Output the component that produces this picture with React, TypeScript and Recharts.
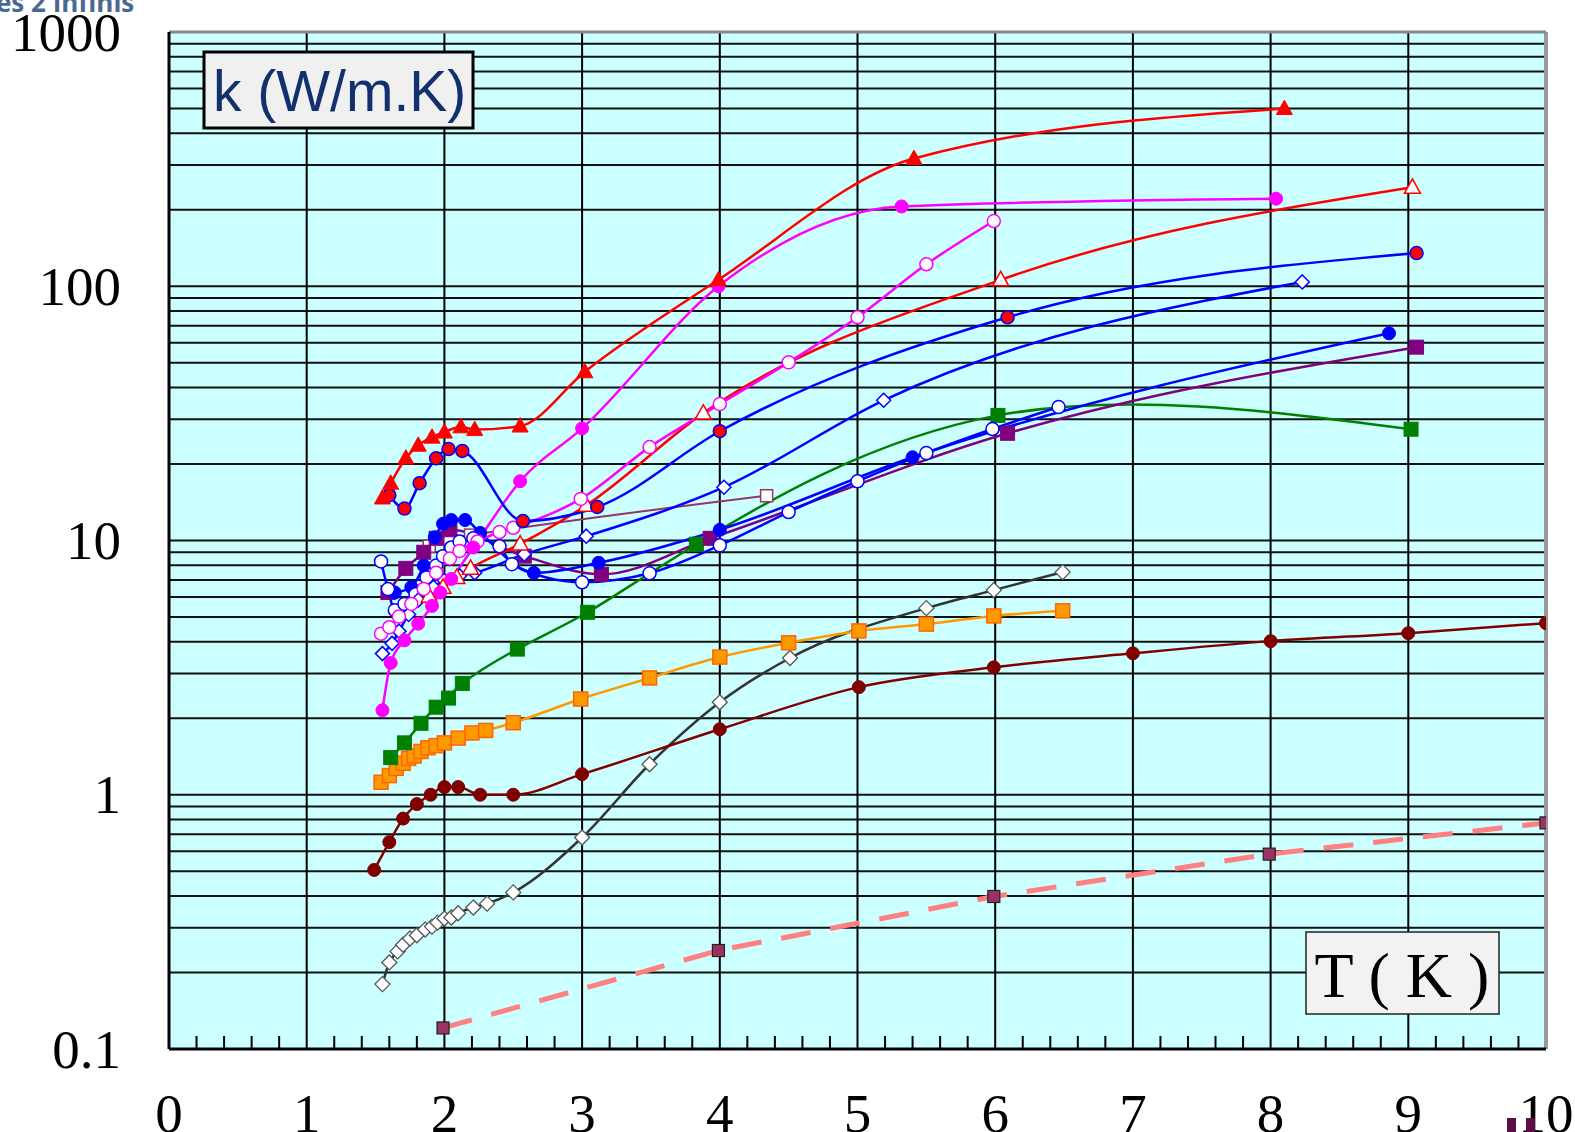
import { LineChart, Line, XAxis, YAxis, CartesianGrid, ReferenceLine } from 'recharts';

// [T (K), k (W/m.K)] pairs, one list per curve
const redTriFilled: [number, number][] = [
  [1.55, 14.7], [1.61, 16.8], [1.72, 21.1], [1.81, 23.7], [1.91, 25.5], [2.0, 26.7], [2.12, 28.0],
  [2.22, 27.3], [2.55, 28.2], [3.02, 46.1], [3.99, 106], [5.41, 318], [8.1, 500],
];
const blueRedDots: [number, number][] = [
  [1.6, 15.07], [1.71, 13.35], [1.82, 16.8], [1.94, 21.05], [2.03, 22.9], [2.13, 22.5], [2.57, 11.93],
  [3.11, 13.55], [4.0, 26.9], [6.09, 75.5], [9.06, 135],
];
const magentaFilled: [number, number][] = [
  [1.55, 2.15], [1.61, 3.3], [1.71, 4.05], [1.81, 4.71], [1.91, 5.53], [1.97, 6.24], [2.05, 7.06],
  [2.21, 9.39], [2.55, 17.1], [3.0, 27.6], [3.99, 100], [5.32, 206], [8.04, 221],
];
const magentaOpen: [number, number][] = [
  [1.54, 4.3], [1.6, 4.56], [1.67, 5.02], [1.76, 5.63], [1.85, 6.45], [1.94, 7.47], [2.04, 8.49],
  [2.11, 9.1], [2.24, 9.91], [2.4, 10.8], [2.5, 11.22], [2.99, 14.57], [3.49, 23.3], [4.0, 34.4],
  [4.5, 50.2], [5.0, 75.5], [5.5, 122], [5.99, 180.5],
];
const redTriOpen: [number, number][] = [
  [1.89, 6.04], [1.99, 6.55], [2.09, 7.16], [2.19, 7.77], [2.55, 9.69], [3.03, 13.75], [3.88, 31.7],
  [6.04, 106], [9.03, 245],
];
const blueDiamonds: [number, number][] = [
  [1.55, 3.59], [1.62, 3.94], [1.67, 4.4], [1.74, 5.12], [1.81, 5.83], [1.92, 6.55], [2.0, 6.96],
  [2.11, 7.26], [2.22, 7.46], [2.58, 8.83], [3.03, 10.4], [4.03, 16.2], [5.19, 35.6], [8.23, 104],
];
const blueOpen: [number, number][] = [
  [1.54, 8.27], [1.59, 6.44], [1.64, 5.32], [1.71, 5.63], [1.79, 6.14], [1.87, 7.16], [1.94, 7.97],
  [1.99, 8.68], [2.05, 9.39], [2.11, 9.9], [2.21, 10.2], [2.4, 9.49], [2.49, 8.07], [3.0, 6.85],
  [3.49, 7.43], [4.0, 9.57], [4.5, 12.94], [5.0, 17.1], [5.5, 22.07], [5.98, 27.44], [6.46, 33.5],
];
const blueFilled: [number, number][] = [
  [1.64, 6.24], [1.76, 6.55], [1.85, 7.97], [1.93, 10.3], [1.99, 11.63], [2.05, 12.04], [2.15, 12.04],
  [2.26, 10.71], [2.65, 7.46], [3.12, 8.17], [4.0, 11.02], [5.4, 21.25], [8.86, 65.3],
];
const purpleSquares: [number, number][] = [
  [1.59, 6.24], [1.72, 7.77], [1.85, 8.99], [1.94, 10.2], [2.04, 11.02], [2.58, 8.68], [3.14, 7.36],
  [3.93, 10.2], [6.09, 26.4], [9.06, 57.6],
];
const mauveOpen: [number, number][] = [
  [1.89, 9.5], [2.04, 10.2], [2.19, 10.5], [4.34, 15.0],
];
const greenSquares: [number, number][] = [
  [1.61, 1.4], [1.71, 1.6], [1.83, 1.91], [1.94, 2.21], [2.03, 2.4], [2.13, 2.74], [2.53, 3.74],
  [3.04, 5.22], [3.83, 9.67], [6.02, 31.05], [9.02, 27.4],
];
const orangeSquares: [number, number][] = [
  [1.54, 1.12], [1.6, 1.19], [1.65, 1.27], [1.7, 1.33], [1.74, 1.39], [1.78, 1.42], [1.83, 1.48],
  [1.88, 1.53], [1.94, 1.56], [2.0, 1.6], [2.1, 1.67], [2.2, 1.75], [2.3, 1.79], [2.5, 1.92],
  [2.99, 2.38], [3.49, 2.88], [4.0, 3.48], [4.5, 3.96], [5.01, 4.41], [5.5, 4.69], [5.99, 5.05],
  [6.49, 5.29],
];
const maroonDots: [number, number][] = [
  [1.49, 0.506], [1.6, 0.651], [1.7, 0.806], [1.8, 0.919], [1.9, 1.0], [2.0, 1.072], [2.1, 1.072],
  [2.26, 1.0], [2.5, 1.0], [3.0, 1.205], [4.0, 1.81], [5.01, 2.65], [5.99, 3.17], [7.0, 3.6],
  [8.0, 4.02], [9.0, 4.32], [10.0, 4.73],
];
const grayDiamonds: [number, number][] = [
  [1.55, 0.18], [1.6, 0.219], [1.66, 0.242], [1.7, 0.257], [1.75, 0.272], [1.8, 0.28],
  [1.86, 0.295], [1.91, 0.303], [1.95, 0.314], [2.0, 0.326], [2.05, 0.329], [2.1, 0.342],
  [2.21, 0.36], [2.31, 0.373], [2.5, 0.413], [3.0, 0.679], [3.49, 1.318], [4.0, 2.31],
  [4.51, 3.45], [5.5, 5.42], [5.99, 6.38], [6.49, 7.51],
];
const dashedSquares: [number, number][] = [
  [1.99, 0.121], [3.99, 0.244], [5.99, 0.398], [7.99, 0.584], [10.0, 0.775],
];

const xMajor = [0, 1, 2, 3, 4, 5, 6, 7, 8, 9, 10];
const xLabels = ['0', '1', '2', '3', '4', '5', '6', '7', '8', '9', '10'];
const yDecades = [0.1, 1, 10, 100];
const yLabels = ['0.1', '1', '10', '100', '1000'];

// minor ticks every 0.2 along T, gridlines on every 1..9 of each decade
const xTicks: number[] = [];
for (let i = 0; i <= 50; i++) xTicks.push(Math.round(i * 2) / 10);
const yTicks: number[] = [];
yDecades.forEach((d) => {
  for (let m = 1; m <= 9; m++) yTicks.push(m * d);
});
yTicks.push(1000);

const SERIF = '"Liberation Serif", "Times New Roman", serif';

type Shape = 'circle' | 'square' | 'triangle' | 'diamond';

function marker(shape: Shape, fill: string, stroke: string, size: number, sw = 1.5) {
  return (p: any) => {
    const { cx, cy, index } = p;
    if (cx == null || cy == null) return <g key={index} />;
    const h = size / 2;
    if (shape === 'circle') {
      return <circle key={index} cx={cx} cy={cy} r={h} fill={fill} stroke={stroke} strokeWidth={sw} />;
    }
    if (shape === 'square') {
      return <rect key={index} x={cx - h} y={cy - h} width={size} height={size} fill={fill} stroke={stroke} strokeWidth={sw} />;
    }
    if (shape === 'triangle') {
      const d = `M${cx},${cy - h * 1.05} L${cx + h},${cy + h * 0.75} L${cx - h},${cy + h * 0.75} Z`;
      return <path key={index} d={d} fill={fill} stroke={stroke} strokeWidth={sw} />;
    }
    const d = `M${cx},${cy - h} L${cx + h},${cy} L${cx},${cy + h} L${cx - h},${cy} Z`;
    return <path key={index} d={d} fill={fill} stroke={stroke} strokeWidth={sw} />;
  };
}

const rows = (pts: [number, number][]) => pts.map(([t, k]) => ({ t, k }));

interface SeriesDef {
  id: string;
  pts: [number, number][];
  color: string;
  width: number;
  dot: (p: any) => any;
  curve?: 'monotone' | 'natural' | 'linear';
  dash?: string;
}

const series: SeriesDef[] = [
  { id: 'dashed', pts: dashedSquares, color: '#ff8080', width: 5, dash: '30 20', curve: 'linear', dot: marker('square', '#993366', '#222', 12, 1.2) },
  { id: 'gray', pts: grayDiamonds, color: '#333333', width: 2.5, dot: marker('diamond', '#ffffff', '#555', 15, 1.3) },
  { id: 'maroon', pts: maroonDots, color: '#800000', width: 2.5, dot: marker('circle', '#800000', '#800000', 13, 1) },
  { id: 'orange', pts: orangeSquares, color: '#ff9900', width: 2.5, dot: marker('square', '#ff9900', '#ff6600', 14, 1.5) },
  { id: 'green', pts: greenSquares, color: '#008000', width: 2.5, curve: 'natural', dot: marker('square', '#008000', '#008000', 14, 1) },
  { id: 'mauve', pts: mauveOpen, color: '#993366', width: 2, dot: marker('square', '#ffffff', '#993366', 12, 1.5) },
  { id: 'purple', pts: purpleSquares, color: '#800080', width: 2.5, dot: marker('square', '#800080', '#800080', 14, 1) },
  { id: 'blueFilled', pts: blueFilled, color: '#0000ff', width: 2.5, dot: marker('circle', '#0000ff', '#0000ff', 13, 1) },
  { id: 'blueOpen', pts: blueOpen, color: '#0000ff', width: 2.5, dot: marker('circle', '#ffffff', '#0000ff', 13, 1.5) },
  { id: 'blueDiamonds', pts: blueDiamonds, color: '#0000ff', width: 2.5, dot: marker('diamond', '#ffffff', '#0000ff', 14, 1.5) },
  { id: 'redTriOpen', pts: redTriOpen, color: '#ff0000', width: 2.5, dot: marker('triangle', '#ffffff', '#ff0000', 16, 1.5) },
  { id: 'magentaOpen', pts: magentaOpen, color: '#ff00ff', width: 2.5, dot: marker('circle', '#ffffff', '#ff00ff', 13, 1.5) },
  { id: 'magentaFilled', pts: magentaFilled, color: '#ff00ff', width: 2.5, dot: marker('circle', '#ff00ff', '#ff00ff', 13, 1) },
  { id: 'blueRedDots', pts: blueRedDots, color: '#0000ff', width: 2.5, dot: marker('circle', '#ff0000', '#0000ff', 13, 1.5) },
  { id: 'redTriFilled', pts: redTriFilled, color: '#ff0000', width: 2.5, dot: marker('triangle', '#ff0000', '#ff0000', 16, 1) },
];

function XTick(props: any) {
  const { x, y, payload } = props;
  const v = payload.value;
  const idx = xMajor.indexOf(Math.round(v * 10) / 10);
  if (idx >= 0) {
    return (
      <text x={x} y={y + 83} textAnchor="middle" fontFamily={SERIF} fontSize={55} fill="#000">
        {xLabels[idx]}
      </text>
    );
  }
  return <line x1={x} y1={y} x2={x} y2={y - 13} stroke="#000" strokeWidth={2} />;
}

function YTick(props: any) {
  const { x, y, index } = props;
  if (index % 9 !== 0) return <g />;
  return (
    <text x={x - 48} y={y} dy="0.34em" textAnchor="end" fontFamily={SERIF} fontSize={55} fill="#000">
      {yLabels[index / 9]}
    </text>
  );
}

export default function App() {
  return (
    <div style={{ position: 'absolute', left: 0, top: 0, width: 1575, height: 1132, background: '#fff', overflow: 'hidden' }}>
      <LineChart width={1575} height={1132} margin={{ top: 32, right: 29, bottom: 3, left: 49 }}>
        <CartesianGrid vertical={false} stroke="#111" strokeWidth={2} fill="#ccffff" fillOpacity={1} />
        <XAxis
          type="number"
          dataKey="t"
          domain={[0, 10]}
          ticks={xTicks}
          interval={0}
          tickSize={0}
          tickMargin={0}
          tick={<XTick />}
          height={80}
          axisLine={{ stroke: '#000', strokeWidth: 3 }}
          allowDataOverflow
        />
        <YAxis
          type="number"
          scale="log"
          domain={[0.1, 1000]}
          ticks={yTicks}
          interval={0}
          tickSize={0}
          tickMargin={0}
          tick={<YTick />}
          width={120}
          axisLine={{ stroke: '#000', strokeWidth: 3 }}
          allowDataOverflow
        />
        {xMajor.slice(1, 10).map((v) => (
          <ReferenceLine key={v} x={v} stroke="#000" strokeWidth={2} />
        ))}
        <ReferenceLine x={10} stroke="#999" strokeWidth={4} />
        <ReferenceLine y={1000} stroke="#888" strokeWidth={3} />
        {series.map((s) => (
          <Line
            key={s.id}
            data={rows(s.pts)}
            dataKey="k"
            type={s.curve ?? 'monotone'}
            stroke={s.color}
            strokeWidth={s.width}
            strokeDasharray={s.dash}
            dot={s.dot}
            activeDot={false}
            isAnimationActive={false}
          />
        ))}
      </LineChart>
      <svg width={1575} height={1132} style={{ position: 'absolute', left: 0, top: 0, pointerEvents: 'none' }}>
        <text x={-4} y={12} fontFamily='"Open Sans", sans-serif' fontWeight={700} fontSize={26} fill="#4a6890">
          es 2 Infinis
        </text>
        <rect x={204} y={52} width={269} height={76} fill="#f0f0f0" stroke="#000" strokeWidth={3} />
        <text x={213} y={111} fontFamily='"Liberation Sans", Arial, sans-serif' fontSize={57} fill="#13306e">
          k (W/m.K)
        </text>
        <rect x={1306} y={932} width={193} height={82} fill="#f2f2f2" stroke="#222" strokeWidth={1.5} />
        <text x={1402} y={997} textAnchor="middle" fontFamily={SERIF} fontSize={64} fill="#000">
          T ( K )
        </text>
        <rect x={1507} y={1118} width={9} height={14} fill="#5b0f45" />
        <rect x={1526} y={1118} width={9} height={14} fill="#5b0f45" />
      </svg>
    </div>
  );
}
